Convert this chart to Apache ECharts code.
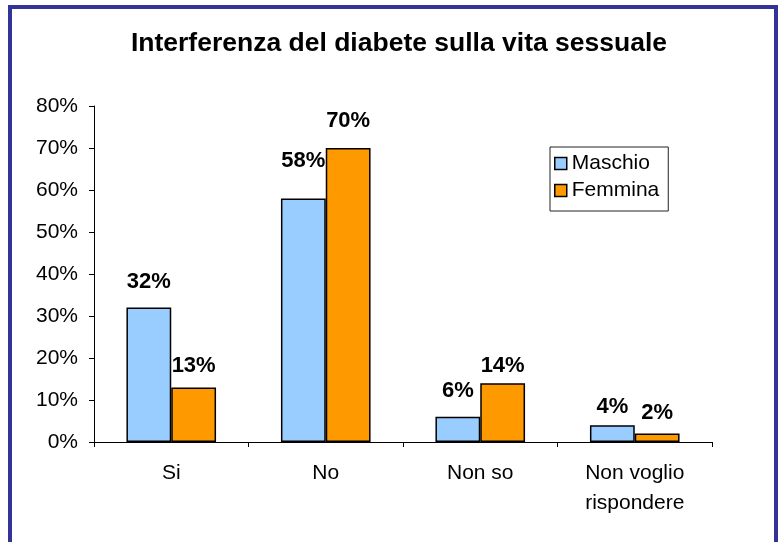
<!DOCTYPE html>
<html>
<head>
<meta charset="utf-8">
<script src="https://cdn.jsdelivr.net/npm/echarts@6/dist/echarts.min.js"></script>
<style>
  html, body { margin: 0; padding: 0; background: #fff; }
  #chart { width: 778px; height: 542px; }
</style>
</head>
<body>
<div id="chart"></div>
<script>
const categories = ["Si", "No", "Non so", "Non voglio\nrispondere"];
const maschio = [32, 58, 6, 4];
const femmina = [13, 70, 14, 2];
const yTicks = [0, 10, 20, 30, 40, 50, 60, 70, 80];

// how far each data label sits above its bar (Excel nudged them)
const liftMaschio = [15, 26, 15, 7];
const liftFemmina = [10, 16, 6, 10];

const withLift = (values, lifts) =>
    values.map((v, i) => ({ value: v, label: { distance: lifts[i] } }));

const chart = echarts.init(document.getElementById("chart"));

const labelStyle = {
    show: true,
    position: "top",
    formatter: "{c}%",
    fontFamily: "Liberation Sans, Arial",
    fontWeight: "bold",
    fontSize: 22,
    color: "#000"
};

chart.setOption({
    animation: false,
    backgroundColor: "#fff",
    textStyle: { fontFamily: "Liberation Sans, Arial" },
    graphic: [
        {
            type: "rect",
            shape: { x: 10, y: 7, width: 766, height: 545 },
            style: { fill: "none", stroke: "#333399", lineWidth: 4 },
            silent: true
        }
    ],
    title: {
        text: "Interferenza del diabete sulla vita sessuale",
        left: 394,
        textAlign: "center",
        top: 25,
        textStyle: {
            fontFamily: "Liberation Sans, Arial",
            fontWeight: "bold",
            fontSize: 26.5,
            color: "#000"
        }
    },
    legend: {
        orient: "vertical",
        left: 550,
        top: 147,
        padding: [6, 9, 10, 4],
        itemGap: 6,
        itemWidth: 12,
        itemHeight: 12,
        itemTextGap: 6,
        borderColor: "#222",
        borderWidth: 1,
        icon: "rect",
        itemStyle: { borderColor: "#000", borderWidth: 1.5 },
        textStyle: { fontSize: 21, color: "#000", fontFamily: "Liberation Sans, Arial" },
        data: ["Maschio", "Femmina"]
    },
    grid: { left: 94, right: 66, top: 106, bottom: 100, containLabel: false },
    xAxis: {
        type: "category",
        data: categories,
        axisLine: { lineStyle: { color: "#000", width: 1 } },
        axisTick: { show: true, length: 5, inside: false, lineStyle: { color: "#000" } },
        axisLabel: {
            color: "#000",
            fontSize: 21,
            lineHeight: 30,
            margin: 16,
            interval: 0
        }
    },
    yAxis: {
        type: "value",
        min: 0,
        max: 80,
        interval: 10,
        axisLine: { show: true, lineStyle: { color: "#000", width: 1 } },
        axisTick: { show: true, length: 5, lineStyle: { color: "#000" } },
        splitLine: { show: false },
        axisLabel: {
            color: "#000",
            fontSize: 21,
            margin: 16,
            formatter: v => (yTicks.includes(v) ? v + "%" : "")
        }
    },
    series: [
        {
            name: "Maschio",
            type: "bar",
            data: withLift(maschio, liftMaschio),
            barGap: "0%",
            barCategoryGap: "42%",
            itemStyle: { color: "#99CCFF", borderColor: "#000", borderWidth: 1.5 },
            label: labelStyle
        },
        {
            name: "Femmina",
            type: "bar",
            data: withLift(femmina, liftFemmina),
            barGap: "0%",
            barCategoryGap: "42%",
            itemStyle: { color: "#FF9900", borderColor: "#000", borderWidth: 1.5 },
            label: labelStyle
        }
    ]
});
</script>
</body>
</html>
